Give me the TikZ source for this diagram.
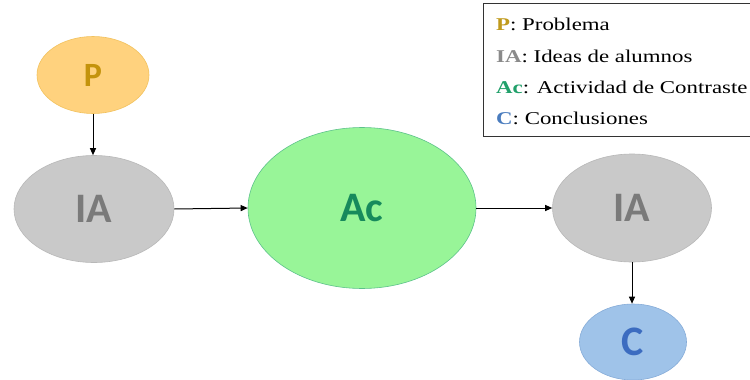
\documentclass[tikz,border=0pt]{standalone}
\usepackage{fontspec}
\usepackage{graphicx}
\setmainfont{Liberation Serif}
\newfontfamily\labfont{Carlito}
\usetikzlibrary{shapes.geometric,arrows.meta}
\definecolor{pfill}{HTML}{FFD27E}
\definecolor{pdraw}{HTML}{F2C25E}
\definecolor{ptext}{HTML}{C4930C}
\definecolor{iafill}{HTML}{C9C9C9}
\definecolor{iadraw}{HTML}{B8B8B8}
\definecolor{iatext}{HTML}{7A7A7A}
\definecolor{acfill}{HTML}{98F598}
\definecolor{acdraw}{HTML}{5CC28A}
\definecolor{actext}{HTML}{178A5C}
\definecolor{cfill}{HTML}{9FC3E9}
\definecolor{cdraw}{HTML}{86ACD8}
\definecolor{ctext}{HTML}{3C6CC0}
\definecolor{lgP}{HTML}{C09A1C}
\definecolor{lgIA}{HTML}{8A8A8A}
\definecolor{lgAc}{HTML}{21A06A}
\definecolor{lgC}{HTML}{4A7CBE}
\tikzset{
  blob/.style={ellipse, inner sep=0pt, line width=0.6pt},
  lab/.style={font=\labfont\bfseries\fontsize{42}{42}\selectfont},
  conn/.style={-{Triangle[length=7pt,width=6pt]}, line width=1pt, black},
  legline/.style={anchor=west, inner sep=0pt, font=\fontsize{18}{18}\selectfont}
}
\begin{document}
\begin{tikzpicture}[x=1pt,y=-1pt]
\useasboundingbox (0,0) rectangle (750,380);
\fill[white] (0,0) rectangle (750,380);
% nodes
\node[blob, fill=pfill, draw=pdraw, minimum width=112pt, minimum height=77pt, text=ptext, font=\labfont\bfseries\fontsize{34}{34}\selectfont] (p) at (93,75) {P};
\node[blob, fill=iafill, draw=iadraw, minimum width=160pt, minimum height=107pt, text=iatext, lab] (ia1) at (94,209) {IA};
\node[blob, fill=acfill, draw=acdraw, minimum width=228pt, minimum height=161pt, text=actext, lab] (ac) at (362,208) {Ac};
\node[blob, fill=iafill, draw=iadraw, minimum width=159pt, minimum height=108pt, text=iatext, lab] (ia2) at (632,208) {IA};
\node[blob, fill=cfill, draw=cdraw, minimum width=107pt, minimum height=76pt, text=ctext, lab] (c) at (633,342) {C};
% connectors
\draw[conn] (p.south) -- (p.south |- ia1.north);
\draw[conn] (ia1.east) -- (ac.west);
\draw[conn] (ac.east) -- (ia2.west);
\draw[conn] (ia2.south) -- (ia2.south |- c.north);
% legend
\node[draw=black!80, line width=0.6pt, minimum width=268pt, minimum height=133pt, anchor=north west, inner sep=0pt] (leg) at (483,3) {};
\node[legline] (l1) at (496,24) {\scalebox{1.27}[1]{\textbf{\color{lgP}P}: Problema}};
\node[legline] (l2) at (496,56) {\scalebox{1.27}[1]{\textbf{\color{lgIA}IA}: Ideas de alumnos}};
\node[legline] (l3) at (496,87) {\scalebox{1.27}[1]{\textbf{\color{lgAc}Ac}: Actividad de Contraste}};
\node[legline] (l4) at (496,118) {\scalebox{1.27}[1]{\textbf{\color{lgC}C}: Conclusiones}};
\end{tikzpicture}
\end{document}
